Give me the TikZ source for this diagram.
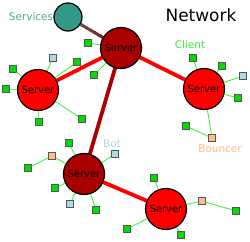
\documentclass[tikz,border=0pt]{standalone}
\usepackage{fontspec}
\setmainfont{DejaVu Sans}
\usetikzlibrary{calc,backgrounds}

\definecolor{srvred}{HTML}{FF0000}
\definecolor{srvdark}{HTML}{AA0000}
\definecolor{svcteal}{HTML}{339988}
\definecolor{svctext}{HTML}{44AA99}
\definecolor{cligreen}{HTML}{00DD00}
\definecolor{clitext}{HTML}{33EE33}
\definecolor{botblue}{HTML}{ADD8E6}
\definecolor{bncpeach}{HTML}{FFBB88}
\definecolor{sqedge}{HTML}{555555}

\tikzset{
  srv/.style={circle, draw=black, line width=1.2bp, fill=srvred, minimum size=41bp, inner sep=0pt, font=\fontsize{10}{12}\selectfont},
  srvdk/.style={srv, fill=srvdark},
  svcnode/.style={circle, draw=black, line width=1.2bp, fill=svcteal, minimum size=28bp},
  client/.style={rectangle, draw=sqedge, line width=0.8bp, fill=cligreen, minimum size=7bp, inner sep=0pt},
  botsq/.style={client, fill=botblue},
  bncsq/.style={client, fill=bncpeach},
  clink/.style={draw=clitext, line width=0.8bp},
  link/.style={line width=3.8bp, srvred},
  lbl/.style={font=\fontsize{10.5}{12}\selectfont}
}

\begin{document}
\begin{tikzpicture}[x=1bp, y=-1bp]
\useasboundingbox (0,0) rectangle (250,242);

% servers
\node[srvdk] (srvtop) at (121,48) {Server};
\node[srv] (srvleft) at (38,90) {Server};
\node[srv] (srvright) at (204,89) {Server};
\node[srvdk] (srvbot) at (84,174) {Server};
\node[srv] (srvbr) at (166,209) {Server};
\node[svcnode] (svc) at (68,17) {};

% links between servers
\begin{pgfonlayer}{background}
\draw[link] (srvtop.center) -- (srvleft.center);
\draw[link] (srvtop.center) -- (srvright.center);
\draw[link, srvdark] (srvtop.center) -- (srvbot.center);
\draw[link] (srvbot.center) -- (srvbr.center);
\foreach \i [evaluate=\i as \a using \i/12, evaluate=\i as \b using (\i+1.3)/12, evaluate=\i as \p using \i*9] in {0,...,11} {
  \draw[line width=3bp, srvdark!\p!gray!80!black] ($(svc)!\a!(srvtop)$) -- ($(svc)!\b!(srvtop)$);
}
\end{pgfonlayer}

% clients
\foreach \n/\x/\y in {ta/88/43, tb/94/75} {
  \node[client] (\n) at (\x,\y) {}; \draw[clink] (srvtop) -- (\n);
}
\foreach \n/\x/\y in {la/77/62, lb/13/69, lc/6/89, ld/39/122, le/82/119} {
  \node[client] (\n) at (\x,\y) {}; \draw[clink] (srvleft) -- (\n);
}
\node[botsq] (lbot) at (53,58) {}; \draw[clink] (srvleft) -- (lbot);

\foreach \n/\x/\y in {ra/193/58, rb/222/66, rc/238/98} {
  \node[client] (\n) at (\x,\y) {}; \draw[clink] (srvright) -- (\n);
}
\node[botsq] (rbot) at (243,76) {}; \draw[clink] (srvright) -- (rbot);
\node[bncsq] (rbnc) at (212,138) {};
\node[client] (rcl) at (186,126) {};
\draw[clink] (srvright) -- (rbnc) -- (rcl);

\foreach \n/\x/\y in {ba/69/143, bb/55/188, bc/96/210} {
  \node[client] (\n) at (\x,\y) {}; \draw[clink] (srvbot) -- (\n);
}
\node[botsq] (bbota) at (115,154) {}; \draw[clink] (srvbot) -- (bbota);
\node[botsq] (bbotb) at (70,204) {}; \draw[clink] (srvbot) -- (bbotb);
\node[bncsq] (bbnc) at (52,156) {};
\node[client] (bcl) at (28,168) {};
\draw[clink] (srvbot) -- (bbnc) -- (bcl);

\foreach \n/\x/\y in {ea/154/178, eb/127/229, ec/181/235} {
  \node[client] (\n) at (\x,\y) {}; \draw[clink] (srvbr) -- (\n);
}
\node[bncsq] (ebnc) at (202,201) {};
\node[client] (ecl) at (236,211) {};
\draw[clink] (srvbr) -- (ebnc) -- (ecl);

% labels
\node[font=\fontsize{17}{20}\selectfont] (title) at (201,15) {Network};
\node[lbl, svctext] (svclbl) at (31,17) {Services};
\node[lbl, clitext] (clilbl) at (190,45) {Client};
\node[lbl, botblue] (botlbl) at (112,144) {Bot};
\node[lbl, bncpeach] (bnclbl) at (220,149) {Bouncer};
\end{tikzpicture}
\end{document}
